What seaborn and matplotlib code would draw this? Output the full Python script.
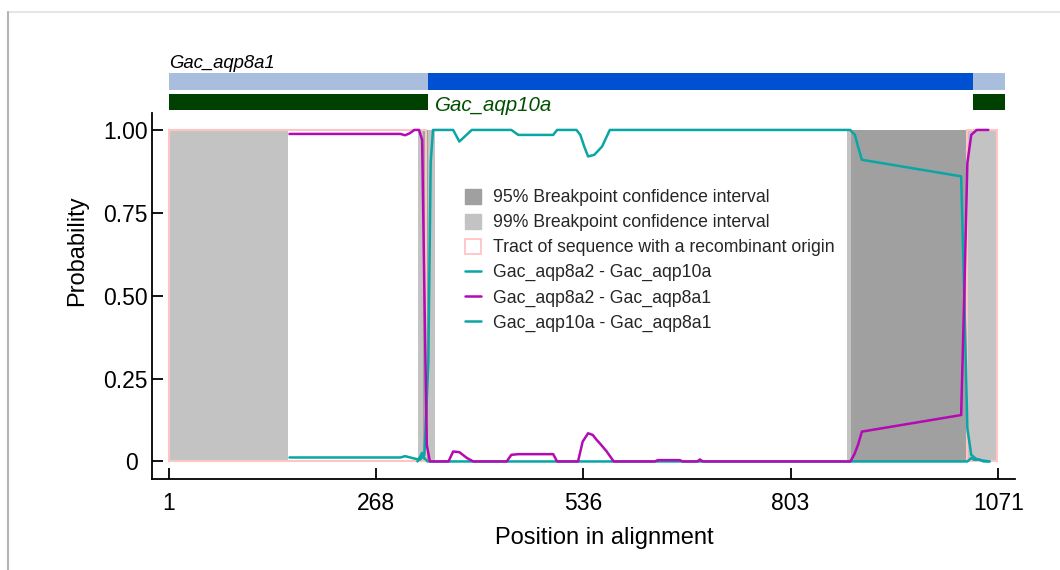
import matplotlib
matplotlib.use("Agg")
import matplotlib.pyplot as plt
import matplotlib.transforms as mtrans
from matplotlib.patches import Patch, Rectangle
from matplotlib.lines import Line2D
import seaborn as sns

sns.set_theme(style='white')
plt.rcParams['font.family'] = ['Liberation Sans', 'DejaVu Sans']

TEAL = '#0aa5a5'
MAGENTA = '#b40ab4'
GRAY95 = '#a0a0a0'
GRAY99 = '#c3c3c3'
PINK = '#ffc4c4'
LIGHTBLUE = '#a8bedc'
BLUE = '#0050d2'
DKGREEN = '#004000'

# ---- data ----
x_ticks = [1, 268, 536, 803, 1071]
y_ticks = [0, 0.25, 0.5, 0.75, 1.0]
y_ticklabels = ['0', '0.25', '0.50', '0.75', '1.00']

# aqp8a2 - aqp10a
pos_a = [157, 300, 306, 316, 325, 331, 336, 339, 342, 368, 376, 392, 443, 452,
         497, 502, 527, 532, 537, 542, 550, 560, 570, 880, 886, 890, 895, 1023,
         1027, 1031, 1036, 1042, 1050, 1060]
prob_a = [0.012, 0.012, 0.016, 0.010, 0.005, 0.02, 0.3, 0.9, 1.0, 1.0, 0.965,
          1.0, 1.0, 0.985, 0.985, 1.0, 1.0, 0.985, 0.95, 0.92, 0.925, 0.95, 1.0,
          1.0, 0.985, 0.95, 0.91, 0.86, 0.5, 0.1, 0.02, 0.008, 0.003, 0.0]

# aqp8a2 - aqp8a1
pos_b = [157, 300, 306, 312, 318, 324, 328, 331, 334, 338, 362, 368, 376, 386,
         394, 437, 443, 452, 497, 502, 529, 535, 542, 548, 553, 557, 566, 575,
         628, 632, 660, 664, 683, 686, 690, 880, 885, 890, 895, 1023, 1027, 1031,
         1036, 1043, 1058]
prob_b = [0.988, 0.988, 0.984, 0.99, 1.0, 1.0, 0.97, 0.5, 0.05, 0.0, 0.0, 0.03,
          0.028, 0.01, 0.0, 0.0, 0.02, 0.022, 0.022, 0.0, 0.0, 0.06, 0.085, 0.08,
          0.065, 0.055, 0.03, 0.0, 0.0, 0.004, 0.004, 0.0, 0.0, 0.006, 0.0, 0.0,
          0.02, 0.05, 0.09, 0.14, 0.5, 0.9, 0.985, 1.0, 1.0]

# aqp10a - aqp8a1
pos_c = [322, 328, 331, 335, 340, 1023, 1031, 1036, 1040, 1046, 1052, 1058]
prob_c = [0.0, 0.026, 0.01, 0.0, 0.0, 0.0, 0.0, 0.01, 0.005, 0.006, 0.0, 0.0]

# breakpoint intervals (start, end)
ci99 = [(1, 155), (323, 345), (876, 1068)]
ci95 = [(329, 335), (880.5, 1029)]
tracts = [(1, 333), (1030, 1069)]

# parent bars
major_starts = [1, 336, 1038]
major_ends = [336, 1038, 1080]
minor_starts = [1, 1038]
minor_ends = [336, 1080]

# ---- figure ----
fig = plt.figure(figsize=(10.6, 5.7), dpi=100)
ax = fig.add_axes([0.1434, 0.1596, 0.8142, 0.6421])
ax_top = fig.add_axes([0.1434, 0.807, 0.8142, 0.065])

for s, e in ci99:
    ax.add_patch(Rectangle((s, 0), e - s, 1, color=GRAY99, lw=0, zorder=1))
for s, e in ci95:
    ax.add_patch(Rectangle((s, 0), e - s, 1, color=GRAY95, lw=0, zorder=1.1))
for s, e in tracts:
    ax.add_patch(Rectangle((s, 0), e - s, 1, fill=False, edgecolor=PINK,
                           lw=1.5, zorder=1.5))

sns.lineplot(x=pos_a, y=prob_a, color=TEAL, lw=1.8, ax=ax, zorder=3,
             estimator=None, sort=False)
sns.lineplot(x=pos_c, y=prob_c, color=TEAL, lw=1.8, ax=ax, zorder=3,
             estimator=None, sort=False)
sns.lineplot(x=pos_b, y=prob_b, color=MAGENTA, lw=1.8, ax=ax, zorder=4,
             estimator=None, sort=False)

ax.set_xlim(-20.3, 1092.5)
ax.set_ylim(-0.053, 1.051)
ax.set_xticks(x_ticks)
ax.set_yticks(y_ticks)
ax.set_yticklabels(y_ticklabels)
ax.tick_params(axis='both', direction='in', length=8, width=1.3,
               labelsize=16.5, colors='black', bottom=True, left=True)
ax.tick_params(axis='y', pad=3)
ax.tick_params(axis='x', pad=9)
# the "0" label sits a little further left in the original
zero_lab = ax.get_yticklabels()[0]
zero_lab.set_transform(zero_lab.get_transform() +
                       mtrans.ScaledTranslation(-10 / 100, 0, fig.dpi_scale_trans))
for side in ['top', 'right']:
    ax.spines[side].set_visible(False)
for side in ['left', 'bottom']:
    ax.spines[side].set_color('black')
    ax.spines[side].set_linewidth(1.3)
ax.set_xlabel('Position in alignment', fontsize=17, color='black')
ax.set_ylabel('Probability', fontsize=17, color='black')
ax.xaxis.set_label_coords(0.524, -0.13)
ax.yaxis.set_label_coords(-0.074, 0.625)

handles = [
    Patch(facecolor=GRAY95, edgecolor=GRAY95),
    Patch(facecolor=GRAY99, edgecolor=GRAY99),
    Patch(facecolor='white', edgecolor=PINK, lw=1.3),
    Line2D([], [], color=TEAL, lw=1.8),
    Line2D([], [], color=MAGENTA, lw=1.8),
    Line2D([], [], color=TEAL, lw=1.8),
]
labels = ['95% Breakpoint confidence interval',
          '99% Breakpoint confidence interval',
          'Tract of sequence with a recombinant origin',
          'Gac_aqp8a2 - Gac_aqp10a',
          'Gac_aqp8a2 - Gac_aqp8a1',
          'Gac_aqp10a - Gac_aqp8a1']
ax.legend(handles, labels, loc='upper left', bbox_to_anchor=(0.355, 0.812),
          frameon=False, fontsize=12.7, handlelength=0.9, handleheight=0.9,
          handletextpad=0.65, labelspacing=0.43, borderaxespad=0)

# parent bars on top
ax_top.set_xlim(ax.get_xlim())
ax_top.set_ylim(0, 1)
ax_top.barh(0.77, [e - s for s, e in zip(major_starts, major_ends)],
            left=major_starts, height=0.46,
            color=[LIGHTBLUE, BLUE, LIGHTBLUE], lw=0)
ax_top.barh(0.215, [e - s for s, e in zip(minor_starts, minor_ends)],
            left=minor_starts, height=0.43, color=DKGREEN, lw=0)
ax_top.text(2, 1.03, 'Gac_aqp8a1', fontsize=13.3, style='italic', color='black',
            va='bottom', ha='left')
ax_top.text(344, 0.12, 'Gac_aqp10a', fontsize=14.8, style='italic',
            color='#005000', va='center', ha='left')
ax_top.axis('off')

# frame of the original panel
fig.add_artist(Line2D([8 / 1060, 1], [1 - 12 / 570, 1 - 12 / 570],
                      color='#e6e6e6', lw=1.5))
fig.add_artist(Line2D([8 / 1060, 8 / 1060], [0, 1 - 12 / 570],
                      color='#b4b4b4', lw=1.5))

fig.savefig('out.png', dpi=100)
